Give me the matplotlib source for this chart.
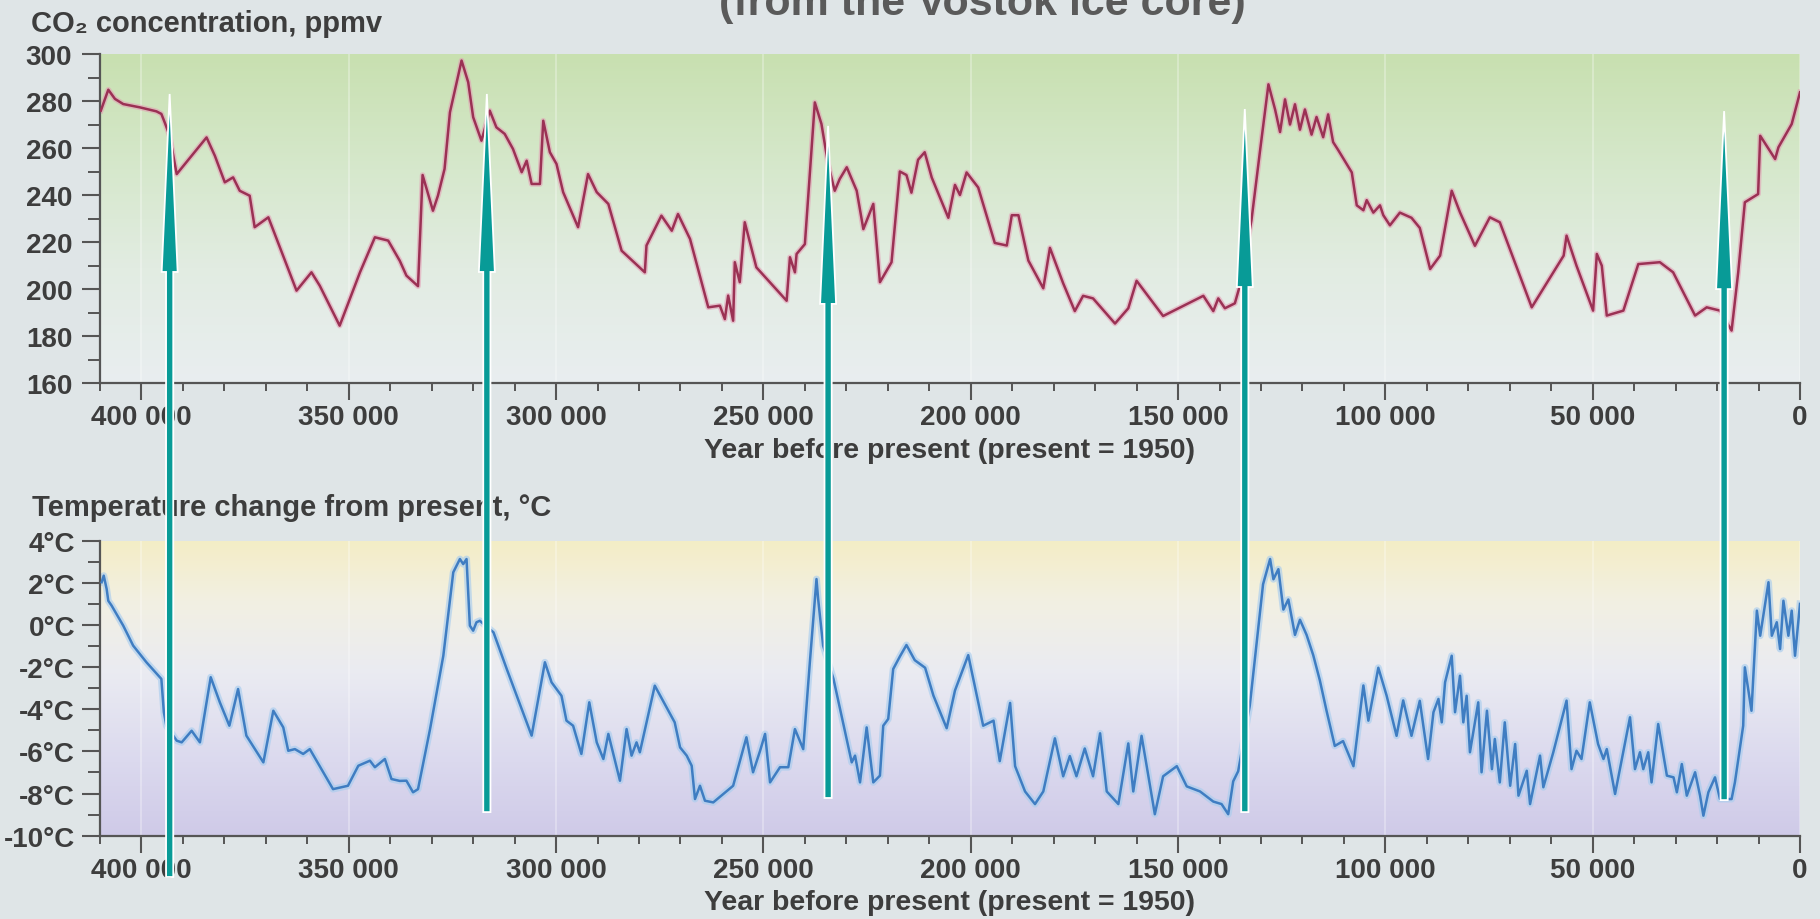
import numpy as np
import matplotlib
matplotlib.use("Agg")
import matplotlib.pyplot as plt
from matplotlib.colors import LinearSegmentedColormap
from matplotlib.patches import Polygon
from matplotlib.ticker import MultipleLocator, FixedLocator, FuncFormatter

plt.rcParams['font.family'] = ['Liberation Sans', 'DejaVu Sans']

# ---------------- data (years before present in thousands) ----------------
co2_kyr = [409.8, 408.0, 406.4, 404.4, 400.4, 396.4, 395.2, 394.4, 393.2, 391.5,
           384.3, 382.3, 379.9, 377.9, 376.3, 373.9, 372.7, 369.4, 362.6, 359.0,
           357.0, 352.2, 347.3, 343.7, 340.5, 337.7, 336.1, 333.3, 332.2, 329.7,
           328.5, 326.9, 325.6, 322.8, 321.2, 320.0, 318.0, 316.0, 314.4, 312.4,
           310.4, 308.3, 307.1, 305.9, 303.9, 303.1, 301.5, 299.9, 298.3, 294.7,
           292.3, 290.2, 287.4, 284.2, 278.6, 278.2, 274.6, 272.1, 270.6, 267.7,
           263.3, 260.5, 259.3, 258.5, 257.3, 256.9, 255.7, 254.5, 251.7, 244.4,
           243.6, 242.4, 242.0, 240.0, 237.6, 236.0, 234.4, 232.8, 231.6, 229.9,
           227.5, 225.9, 223.5, 221.9, 219.1, 217.1, 215.5, 214.3, 212.7, 211.1,
           209.4, 205.4, 203.8, 202.6, 201.0, 198.2, 194.2, 191.3, 190.1, 188.5,
           186.1, 182.5, 180.9, 177.7, 174.9, 172.9, 170.5, 165.2, 162.0, 160.0,
           153.6, 143.9, 141.5, 140.3, 138.7, 136.3, 135.1, 132.3, 130.2, 128.2,
           126.6, 125.4, 124.2, 123.0, 121.8, 120.6, 119.4, 117.8, 116.6, 115.0,
           113.8, 112.6, 111.4, 108.1, 106.9, 105.3, 104.5, 102.9, 101.3, 100.5,
           98.9, 96.5, 93.7, 91.7, 89.2, 86.8, 84.0, 82.0, 78.4, 74.8,
           72.4, 64.7, 57.0, 56.3, 53.9, 49.9, 49.0, 47.8, 46.6, 42.6,
           39.0, 33.8, 30.6, 25.3, 22.5, 19.3, 16.5, 14.9, 13.3, 10.1,
           9.6, 6.0, 5.2, 2.0, 0.0]
co2_ppmv = [275.9, 284.8, 280.9, 278.7, 277.3, 275.6, 274.5, 270.9, 265.2, 248.9,
            264.5, 256.7, 245.4, 247.5, 241.8, 239.7, 226.3, 230.5, 199.3, 207.1,
            201.4, 184.4, 207.1, 222.0, 220.6, 212.0, 205.7, 201.2, 248.5, 233.3,
            239.7, 251.1, 275.2, 297.2, 288.0, 273.1, 263.1, 275.9, 268.8, 266.0,
            259.6, 249.7, 254.6, 244.7, 244.7, 271.6, 258.2, 253.2, 241.2, 226.3,
            248.9, 241.2, 236.2, 216.3, 207.1, 218.5, 231.2, 224.8, 231.9, 221.3,
            192.2, 192.9, 187.2, 197.2, 186.5, 211.4, 202.9, 228.4, 209.2, 195.0,
            213.5, 207.1, 214.9, 219.1, 279.4, 270.2, 253.2, 241.8, 246.8, 251.8,
            241.8, 225.5, 236.2, 202.9, 211.4, 250.0, 248.5, 241.0, 255.0, 258.2,
            247.4, 230.3, 244.3, 240.0, 249.6, 243.2, 219.6, 218.5, 231.4, 231.4,
            212.1, 200.3, 217.5, 202.4, 190.6, 197.1, 196.0, 185.3, 191.8, 203.5,
            188.5, 197.1, 190.6, 196.0, 191.8, 193.9, 201.4, 229.2, 259.2, 287.1,
            276.4, 266.8, 280.7, 270.0, 278.6, 267.8, 276.4, 265.7, 273.2, 264.6,
            274.3, 262.5, 259.2, 249.6, 235.6, 233.5, 237.8, 232.5, 235.6, 231.4,
            227.1, 232.5, 230.3, 226.0, 208.5, 214.2, 241.8, 232.6, 218.4, 230.5,
            228.4, 192.2, 214.2, 222.7, 209.9, 190.8, 214.9, 209.9, 188.7, 190.8,
            210.6, 211.4, 207.1, 188.7, 192.2, 190.8, 182.3, 207.1, 236.9, 240.4,
            265.2, 255.3, 260.3, 270.2, 283.7]

temp_kyr = [409.6, 409.1, 408.4, 408.0, 407.2, 404.4, 402.0, 398.8, 395.2, 394.6,
            394.0, 391.5, 390.3, 387.9, 385.9, 383.3, 381.1, 378.8, 376.7, 374.7,
            370.6, 368.2, 365.8, 364.6, 363.0, 361.0, 359.4, 353.8, 350.2, 347.7,
            344.9, 343.7, 341.3, 339.7, 337.7, 336.1, 334.5, 333.3, 330.4, 327.2,
            324.8, 323.2, 322.4, 321.6, 320.8, 320.0, 319.2, 318.4, 315.1, 311.9,
            305.9, 302.7, 301.1, 298.7, 297.5, 295.9, 293.9, 292.0, 290.2, 288.6,
            287.4, 284.6, 283.0, 281.8, 280.6, 279.8, 276.2, 271.4, 270.1, 268.5,
            267.3, 266.5, 265.3, 264.1, 262.1, 257.3, 254.1, 252.5, 250.8, 249.6,
            248.4, 246.0, 244.0, 242.4, 240.4, 238.8, 237.2, 236.8, 235.6, 233.1,
            230.8, 228.7, 227.9, 226.7, 225.1, 223.5, 221.9, 221.1, 219.9, 218.7,
            217.1, 215.5, 213.5, 211.0, 209.0, 205.8, 203.8, 200.6, 197.0, 194.5,
            193.0, 190.5, 189.3, 186.9, 184.5, 182.5, 179.7, 177.7, 176.1, 174.5,
            172.5, 170.5, 168.8, 167.2, 164.4, 162.0, 160.8, 158.8, 155.6, 153.6,
            150.3, 147.9, 144.7, 141.5, 139.5, 137.9, 136.7, 135.5, 132.7, 130.7,
            129.5, 127.8, 127.0, 125.8, 124.6, 123.4, 121.8, 120.6, 119.0, 117.4,
            115.8, 114.2, 112.2, 110.2, 107.7, 105.3, 104.1, 101.7, 99.7, 97.3,
            95.7, 93.7, 91.7, 89.7, 88.4, 87.2, 86.4, 85.6, 84.0, 83.2,
            82.0, 81.2, 80.4, 79.6, 77.6, 76.8, 75.5, 74.3, 73.6, 72.4,
            71.2, 69.9, 68.7, 67.9, 65.9, 65.1, 62.7, 61.9, 59.5, 56.3,
            55.1, 53.9, 52.7, 50.7, 48.7, 47.4, 46.6, 44.6, 41.0, 39.8,
            38.6, 37.8, 36.6, 35.8, 34.2, 32.1, 30.5, 29.7, 28.5, 27.3,
            25.3, 24.1, 23.3, 22.1, 20.5, 19.3, 16.5, 15.7, 13.7, 13.3,
            11.7, 10.4, 9.6, 7.6, 6.8, 5.6, 4.8, 4.0, 2.8, 2.0,
            1.2, 0.0]
temp_c = [2.03, 2.34, 1.71, 1.15, 0.92, -0.03, -0.98, -1.77, -2.56, -4.14,
          -4.78, -5.49, -5.57, -5.02, -5.57, -2.48, -3.67, -4.78, -3.04, -5.25,
          -6.52, -4.07, -4.86, -5.97, -5.89, -6.12, -5.89, -7.79, -7.63, -6.68,
          -6.44, -6.75, -6.36, -7.31, -7.40, -7.39, -7.94, -7.79, -4.94, -1.46,
          2.50, 3.13, 2.89, 3.13, -0.03, -0.27, 0.13, 0.20, -0.35, -2.09,
          -5.25, -1.77, -2.72, -3.36, -4.54, -4.78, -6.12, -3.67, -5.57, -6.36,
          -5.17, -7.39, -4.94, -6.20, -5.57, -6.04, -2.88, -4.62, -5.81, -6.20,
          -6.68, -8.26, -7.63, -8.34, -8.42, -7.63, -5.33, -6.99, -5.97, -5.17,
          -7.47, -6.75, -6.75, -4.94, -5.89, -1.77, 2.18, 1.23, -0.98, -2.56,
          -4.62, -6.52, -6.20, -7.47, -4.86, -7.47, -7.15, -4.78, -4.46, -2.09,
          -1.50, -0.95, -1.67, -2.03, -3.35, -4.90, -3.11, -1.43, -4.78, -4.54,
          -6.46, -3.70, -6.70, -7.90, -8.50, -7.90, -5.38, -7.18, -6.22, -7.18,
          -5.86, -7.18, -5.14, -7.90, -8.50, -5.62, -7.90, -5.26, -8.98, -7.18,
          -6.70, -7.66, -7.90, -8.38, -8.50, -8.98, -7.42, -6.94, -3.83, -0.23,
          1.93, 3.13, 2.17, 2.65, 0.73, 1.21, -0.47, 0.25, -0.47, -1.43,
          -2.63, -4.06, -5.74, -5.51, -6.70, -2.87, -4.54, -2.03, -3.35, -5.26,
          -3.58, -5.26, -3.60, -6.36, -4.14, -3.51, -4.62, -2.72, -1.46, -4.14,
          -2.41, -4.62, -3.36, -6.04, -3.67, -6.99, -4.07, -6.84, -5.41, -7.47,
          -4.62, -7.63, -5.65, -8.10, -6.92, -8.50, -6.20, -7.70, -6.04, -3.59,
          -6.84, -5.97, -6.36, -3.67, -5.65, -6.36, -5.89, -8.02, -4.38, -6.84,
          -6.04, -6.84, -6.04, -7.47, -4.70, -7.15, -7.23, -7.94, -6.60, -8.10,
          -6.99, -8.10, -9.05, -7.94, -7.23, -8.26, -8.26, -7.47, -4.78, -2.01,
          -4.07, 0.68, -0.51, 2.03, -0.51, 0.13, -1.14, 1.15, -0.51, 0.68,
          -1.46, 1.00]

# arrows: year (kyr), tip on CO2 panel (ppmv), tail on temperature panel (°C)
arrow_kyr = [393.2, 316.7, 234.4, 133.9, 18.3]
arrow_tip_ppmv = [283.0, 283.0, 269.4, 276.6, 275.7]
arrow_tail_c = [-11.96, -8.88, -8.21, -8.88, -8.31]

x_major = [400000, 350000, 300000, 250000, 200000, 150000, 100000, 50000, 0]
co2_ticks = [160, 180, 200, 220, 240, 260, 280, 300]
temp_ticks = [-10, -8, -6, -4, -2, 0, 2, 4]

title_text = "(from the Vostok ice core)"
co2_label = "CO\u2082 concentration, ppmv"
temp_label = "Temperature change from present, \u00b0C"
x_label = "Year before present (present = 1950)"

# ---------------- figure ----------------
W, H = 1820, 920
fig = plt.figure(figsize=(W / 100, H / 100), dpi=100, facecolor='#dfe5e7')
ax1 = fig.add_axes([100 / W, 1 - 384 / H, 1700 / W, 329 / H])
ax2 = fig.add_axes([100 / W, 1 - 836.7 / H, 1700 / W, 295 / H])

XMAX, XMIN = 410000, 0
txt_col = '#3d3d3d'
spine_col = '#555555'

cmap_top = LinearSegmentedColormap.from_list(
    'top', [(0.0, '#e9eef0'), (0.35, '#e2ece2'), (0.65, '#d6e8cc'), (1.0, '#c8e0b0')])
cmap_bot = LinearSegmentedColormap.from_list(
    'bot', [(0.0, '#cfcae8'), (0.25, '#dbd9ee'), (0.55, '#eaebf2'), (0.8, '#f2f0e2'), (1.0, '#f4edc6')])

grad = np.linspace(0, 1, 256).reshape(-1, 1)


def style(ax, ylo, yhi, yticks, yfmt, cmap, ypad):
    ax.set_facecolor('none')
    ax.imshow(grad, extent=(XMAX, XMIN, ylo, yhi), origin='lower', aspect='auto',
              cmap=cmap, zorder=0, interpolation='bicubic')
    ax.set_xlim(XMAX, XMIN)
    ax.set_ylim(ylo, yhi)
    for s in ('top', 'right'):
        ax.spines[s].set_visible(False)
    for s in ('left', 'bottom'):
        ax.spines[s].set_color(spine_col)
        ax.spines[s].set_linewidth(1.6)
    ax.xaxis.set_major_locator(FixedLocator(x_major))
    ax.xaxis.set_minor_locator(MultipleLocator(10000))
    ax.xaxis.set_major_formatter(FuncFormatter(
        lambda v, p: f"{int(round(v)):,}".replace(",", " ")))
    ax.yaxis.set_major_locator(FixedLocator(yticks))
    ax.yaxis.set_minor_locator(MultipleLocator((yticks[1] - yticks[0]) / 2))
    ax.yaxis.set_major_formatter(FuncFormatter(yfmt))
    ax.tick_params(axis='x', which='major', direction='out', length=12, width=1.5,
                   color=spine_col, pad=3, labelsize=20, labelcolor=txt_col)
    ax.tick_params(axis='x', which='minor', direction='out', length=6, width=1.4,
                   color=spine_col)
    ax.tick_params(axis='y', which='major', direction='out', length=13, width=1.5,
                   color=spine_col, pad=ypad, labelsize=20, labelcolor=txt_col)
    ax.tick_params(axis='y', which='minor', direction='out', length=9, width=1.4,
                   color=spine_col)
    for lab in ax.get_xticklabels() + ax.get_yticklabels():
        lab.set_fontweight('bold')
    for xv in x_major:
        ax.axvline(xv, color='white', lw=1.2, alpha=0.35, zorder=1)
    ax.set_xlabel(x_label, fontsize=20.5, fontweight='bold', color=txt_col, labelpad=5)


style(ax1, 160, 300, co2_ticks, lambda v, p: f"{int(round(v))}", cmap_top, 7)
style(ax2, -10, 4, temp_ticks, lambda v, p: f"{int(round(v))}\u00b0C", cmap_bot, 5)

co2_years = np.array(co2_kyr) * 1000
temp_years = np.array(temp_kyr) * 1000
ax1.plot(co2_years, co2_ppmv, color='#e49ab4', lw=4.0, alpha=0.55, zorder=2,
         solid_joinstyle='round')
ax1.plot(co2_years, co2_ppmv, color='#9b3154', lw=1.8, zorder=3, solid_joinstyle='round')
ax2.plot(temp_years, temp_c, color='#a9cdee', lw=5.0, alpha=0.65, zorder=2,
         solid_joinstyle='round')
ax2.plot(temp_years, temp_c, color='#3f7dc2', lw=1.8, zorder=3, solid_joinstyle='round')

# panel titles
fig.text(31 / W, 1 - 24 / H, co2_label, ha='left', va='center', fontsize=21,
         fontweight='bold', color=txt_col)
fig.text(32 / W, 1 - 508 / H, temp_label, ha='left', va='center', fontsize=21,
         fontweight='bold', color=txt_col)
fig.text(982 / W, 1 - 15 / H, title_text, ha='center', va='baseline', fontsize=31,
         fontweight='bold', color='#5a5a5a')

# arrows (drawn in figure space, anchored to data positions)
inv = fig.transFigure.inverted()
shaft_half, head_half, head_len = 3.6, 8.0, 178.0
for yr, tip, tail in zip(arrow_kyr, arrow_tip_ppmv, arrow_tail_c):
    xt, yt = ax1.transData.transform((yr * 1000, tip))
    xb, yb = ax2.transData.transform((yr * 1000, tail))
    ybase = yt - head_len
    pts = [(xt - shaft_half, yb), (xt - shaft_half, ybase), (xt - head_half, ybase),
           (xt, yt), (xt + head_half, ybase), (xt + shaft_half, ybase),
           (xt + shaft_half, yb)]
    pts = inv.transform(pts)
    fig.patches.append(Polygon(pts, closed=True, transform=fig.transFigure,
                               facecolor='#089b97', edgecolor='white', lw=1.3,
                               zorder=10))

fig.savefig('out.png', dpi=100, facecolor=fig.get_facecolor())
